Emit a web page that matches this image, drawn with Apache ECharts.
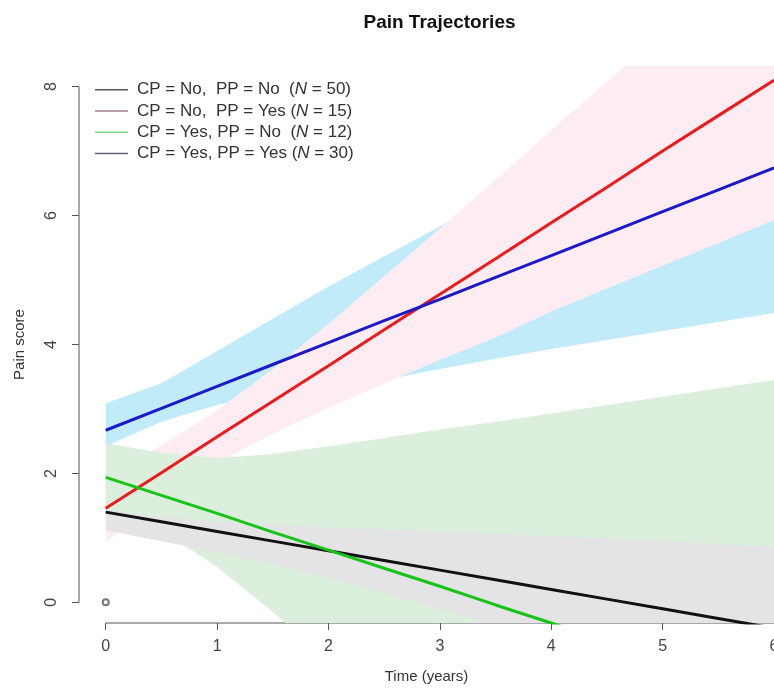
<!DOCTYPE html>
<html>
<head>
<meta charset="utf-8">
<script src="https://cdn.jsdelivr.net/npm/echarts@6/dist/echarts.min.js"></script>
<style>
  html, body { margin: 0; padding: 0; background: #fff; }
  #painChart { width: 774px; height: 692px; }
</style>
</head>
<body>
<div id="painChart"></div>
<script>
var years = [0, 0.5, 1, 1.5, 2, 2.5, 3, 3.5, 4, 4.5, 5, 5.5, 6];
var xTicks = [0, 1, 2, 3, 4, 5, 6];
var yTicks = [0, 2, 4, 6, 8];

var groupNames = [
    'CP = No,  PP = No  (N = 50)',
    'CP = No,  PP = Yes (N = 15)',
    'CP = Yes, PP = No  (N = 12)',
    'CP = Yes, PP = Yes (N = 30)'
];

// CP = No, PP = No
var noNoMean  = [1.40, 1.25, 1.10, 0.95, 0.80, 0.65, 0.50, 0.35, 0.20, 0.05, -0.10, -0.25, -0.40];
var noNoLower = [1.12, 0.95, 0.78, 0.59, 0.38, 0.15, -0.10, -0.36, -0.63, -0.89, -1.15, -1.40, -1.66];
var noNoUpper = [1.43, 1.33, 1.25, 1.20, 1.16, 1.13, 1.10, 1.06, 1.03, 0.99, 0.95, 0.90, 0.86];

// CP = No, PP = Yes
var noYesMean  = [1.46, 2.01, 2.57, 3.12, 3.67, 4.23, 4.78, 5.33, 5.89, 6.44, 7.00, 7.55, 8.10];
var noYesLower = [0.93, 1.59, 2.16, 2.62, 3.02, 3.40, 3.76, 4.11, 4.51, 4.87, 5.22, 5.57, 5.93];
var noYesUpper = [1.99, 2.43, 2.98, 3.62, 4.32, 5.06, 5.80, 6.55, 7.32, 8.07, 8.84, 9.60, 10.36];

// CP = Yes, PP = No
var yesNoMean  = [1.94, 1.66, 1.38, 1.09, 0.81, 0.53, 0.25, -0.04, -0.32, -0.60, -0.89, -1.17, -1.45];
var yesNoLower = [1.40, 1.12, 0.55, -0.15, -0.90, -1.60, -2.30, -3.00, -3.70, -4.40, -5.10, -5.80, -6.50];
var yesNoUpper = [2.47, 2.32, 2.24, 2.30, 2.42, 2.55, 2.68, 2.80, 2.93, 3.06, 3.19, 3.32, 3.45];

// CP = Yes, PP = Yes
var yesYesMean  = [2.67, 3.01, 3.35, 3.69, 4.03, 4.37, 4.70, 5.04, 5.38, 5.72, 6.06, 6.40, 6.74];
var yesYesLower = [2.42, 2.80, 3.06, 3.23, 3.38, 3.45, 3.62, 3.78, 3.93, 4.07, 4.21, 4.35, 4.49];
var yesYesUpper = [3.09, 3.40, 3.90, 4.40, 4.90, 5.37, 5.83, 6.33, 6.85, 7.40, 7.95, 8.55, 9.10];

// plot region runs past the right edge of the picture, so stop at 6
var xMin = -0.24, xMax = 6.0;
var yMin = -0.32, yMax = 8.32;

function pairs(vals) {
    var out = [];
    for (var i = 0; i < years.length; i++) {
        out.push([years[i], vals[i]]);
    }
    return out;
}

// shaded confidence band as one polygon
function band(lower, upper, color) {
    return {
        type: 'custom',
        silent: true,
        clip: true,
        z: 1,
        data: [[0, 0]],
        renderItem: function (params, api) {
            var pts = [];
            for (var i = 0; i < years.length; i++) {
                pts.push(api.coord([years[i], upper[i]]));
            }
            for (var j = years.length - 1; j >= 0; j--) {
                pts.push(api.coord([years[j], lower[j]]));
            }
            return {
                type: 'polygon',
                shape: { points: pts },
                style: { fill: color, stroke: null }
            };
        }
    };
}

function trend(name, vals, color) {
    return {
        type: 'line',
        name: name,
        data: pairs(vals),
        showSymbol: false,
        silent: true,
        clip: true,
        z: 3,
        color: color,
        lineStyle: { color: color, width: 3 }
    };
}

var chartDom = document.getElementById('painChart');
var myChart = echarts.init(chartDom);
var option;

var labelFont = 'Liberation Sans, Arial, sans-serif';

option = {
    animation: false,
    backgroundColor: '#fff',
    title: {
        text: 'Pain Trajectories',
        left: 439.5,
        top: 13,
        padding: 0,
        textAlign: 'center',
        textStyle: { fontFamily: labelFont, fontSize: 19, fontWeight: 'bold', color: '#111' }
    },
    grid: { left: 79, top: 66, right: 0, bottom: 69, outerBoundsMode: 'none', containLabel: false },
    legend: {
        orient: 'vertical',
        left: 95,
        top: 79,
        padding: 0,
        itemGap: 0,
        itemWidth: 33,
        itemHeight: 1.5,
        icon: 'rect',
        selectedMode: false,
        data: [
            { name: groupNames[0], itemStyle: { color: '#555555' } },
            { name: groupNames[1], itemStyle: { color: '#a08088' } },
            { name: groupNames[2], itemStyle: { color: '#80d890' } },
            { name: groupNames[3], itemStyle: { color: '#606070' } }
        ],
        formatter: function (name) {
            return name.replace('(N =', '({i|N} =');
        },
        textStyle: {
            fontFamily: labelFont,
            fontSize: 17,
            lineHeight: 21.3,
            color: '#333',
            padding: [0, 0, 0, 4],
            rich: {
                i: { fontFamily: labelFont, fontSize: 17, fontStyle: 'italic', color: '#333' }
            }
        }
    },
    xAxis: {
        type: 'value',
        min: xMin,
        max: xMax,
        name: 'Time (years)',
        nameLocation: 'middle',
        nameGap: 46,
        nameTextStyle: { fontFamily: labelFont, fontSize: 15, color: '#333' },
        axisLine: { show: false, onZero: false },
        splitLine: { show: false },
        axisTick: { show: true, customValues: xTicks, length: 7, lineStyle: { color: '#555' } },
        axisLabel: { customValues: xTicks, margin: 16, fontFamily: labelFont, fontSize: 16, color: '#444' }
    },
    yAxis: {
        type: 'value',
        min: yMin,
        max: yMax,
        name: 'Pain score',
        nameLocation: 'middle',
        nameGap: 52,
        nameTextStyle: { fontFamily: labelFont, fontSize: 15, color: '#333' },
        axisLine: { show: false, onZero: false },
        splitLine: { show: false },
        axisTick: { show: true, customValues: yTicks, length: 7, lineStyle: { color: '#555' } },
        axisLabel: { customValues: yTicks, rotate: 90, margin: 19, fontFamily: labelFont, fontSize: 16, color: '#444' }
    },
    series: [
        // R style axis lines, running only between the end ticks
        {
            type: 'line',
            silent: true,
            clip: false,
            z: 0,
            showSymbol: false,
            data: [[xTicks[0], yMin], [xTicks[xTicks.length - 1], yMin]],
            lineStyle: { color: '#555', width: 1 }
        },
        {
            type: 'line',
            silent: true,
            clip: false,
            z: 0,
            showSymbol: false,
            data: [[xMin, yTicks[0]], [xMin, yTicks[yTicks.length - 1]]],
            lineStyle: { color: '#555', width: 1 }
        },
        band(yesYesLower, yesYesUpper, '#c2ebf9'),
        band(noYesLower, noYesUpper, '#fdecf1'),
        band(yesNoLower, yesNoUpper, '#dcefdd'),
        band(noNoLower, noNoUpper, '#e4e3e6'),
        trend(groupNames[0], noNoMean, '#111111'),
        trend(groupNames[1], noYesMean, '#ec1a1a'),
        trend(groupNames[2], yesNoMean, '#17c417'),
        trend(groupNames[3], yesYesMean, '#1a1acc'),
        // the lone open circle at the origin
        {
            type: 'scatter',
            silent: true,
            z: 4,
            symbol: 'emptyCircle',
            symbolSize: 6,
            data: [[0, 0]],
            itemStyle: { color: '#555', borderColor: '#555', borderWidth: 1 }
        }
    ]
};

option && myChart.setOption(option);
</script>
</body>
</html>
